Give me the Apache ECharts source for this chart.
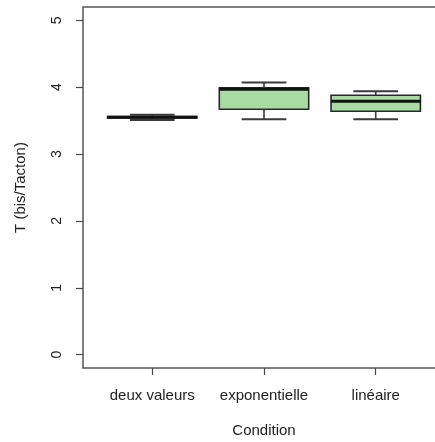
<!DOCTYPE html>
<html>
<head>
<meta charset="utf-8">
<script src="https://cdn.jsdelivr.net/npm/echarts@6/dist/echarts.min.js"></script>
<style>html,body{margin:0;padding:0;background:#fff;}#c{width:435px;height:442px;}</style>
</head>
<body>
<div id="c"></div>
<script>
const categories = ['deux valeurs', 'exponentielle', 'linéaire'];
const whiskerLow = [3.51, 3.52, 3.52];
const q1 = [3.54, 3.67, 3.64];
const median = [3.55, 3.97, 3.79];
const q3 = [3.56, 3.99, 3.88];
const whiskerHigh = [3.59, 4.07, 3.94];
const yTicks = [0, 1, 2, 3, 4, 5];
const xTicks = [1, 2, 3];
const yTitle = 'T (bis/Tacton)';
const xTitle = 'Condition';

const boxData = categories.map((c, i) => [i + 1, whiskerLow[i], q1[i], median[i], q3[i], whiskerHigh[i]]);

const chart = echarts.init(document.getElementById('c'), null, {renderer: 'canvas'});
const font = '"Liberation Sans", Arial, Helvetica, sans-serif';
const txt = '#222';
const lineC = '#4a4a4a';

chart.setOption({
  animation: false,
  grid: {left: 83, top: 7, width: 362, height: 361, outerBoundsMode: 'none', containLabel: false,
    show: true, borderColor: '#555', borderWidth: 1.5, backgroundColor: 'transparent'},
  graphic: [{
    type: 'text', x: 21, y: 187.5, rotation: Math.PI / 2,
    style: {text: yTitle, fontSize: 15, fontFamily: font, fill: txt, align: 'center', verticalAlign: 'middle'}
  }],
  xAxis: {
    type: 'value', min: 0.38, max: 3.62,
    splitLine: {show: false},
    axisLine: {show: false, onZero: false},
    axisTick: {show: true, length: 7, customValues: xTicks, lineStyle: {color: lineC, width: 1.2}},
    axisLabel: {customValues: xTicks, margin: 20, fontSize: 15, fontFamily: font, color: txt,
      formatter: v => categories[Math.round(v) - 1] || ''},
    name: xTitle, nameLocation: 'middle', nameGap: 55,
    nameTextStyle: {fontSize: 15, fontFamily: font, color: txt}
  },
  yAxis: {
    type: 'value', min: -0.2, max: 5.2,
    splitLine: {show: false},
    axisLine: {show: false, onZero: false},
    axisTick: {show: true, length: 7, customValues: yTicks, lineStyle: {color: lineC, width: 1.2}},
    axisLabel: {customValues: yTicks, rotate: 90, margin: 19, fontSize: 14, fontFamily: font, color: txt}
  },
  series: [{
    type: 'custom',
    data: boxData,
    encode: {x: 0, y: [1, 2, 3, 4, 5]},
    clip: false,
    renderItem: function (params, api) {
      const x = api.value(0);
      const lo = api.value(1), a = api.value(2), m = api.value(3), b = api.value(4), hi = api.value(5);
      const pLo = api.coord([x, lo]), pA = api.coord([x, a]), pM = api.coord([x, m]), pB = api.coord([x, b]), pHi = api.coord([x, hi]);
      const half = api.size([0.4, 0])[0];
      const capHalf = api.size([0.2, 0])[0];
      const cx = pM[0];
      const wStyle = {stroke: '#3a3a3a', lineWidth: 1.6};
      return {
        type: 'group',
        children: [
          {type: 'line', shape: {x1: cx, y1: pB[1], x2: cx, y2: pHi[1]}, style: wStyle},
          {type: 'line', shape: {x1: cx, y1: pA[1], x2: cx, y2: pLo[1]}, style: wStyle},
          {type: 'line', shape: {x1: cx - capHalf, y1: pHi[1], x2: cx + capHalf, y2: pHi[1]}, style: {stroke: '#3a3a3a', lineWidth: 2}},
          {type: 'line', shape: {x1: cx - capHalf, y1: pLo[1], x2: cx + capHalf, y2: pLo[1]}, style: {stroke: '#3a3a3a', lineWidth: 2}},
          {type: 'rect', shape: {x: cx - half, y: pB[1], width: 2 * half, height: pA[1] - pB[1]},
            style: {fill: '#a8dca2', stroke: '#262636', lineWidth: 1.6}},
          {type: 'line', shape: {x1: cx - half, y1: pM[1], x2: cx + half, y2: pM[1]}, style: {stroke: '#111', lineWidth: 3}}
        ]
      };
    }
  }]
});
</script>
</body>
</html>
